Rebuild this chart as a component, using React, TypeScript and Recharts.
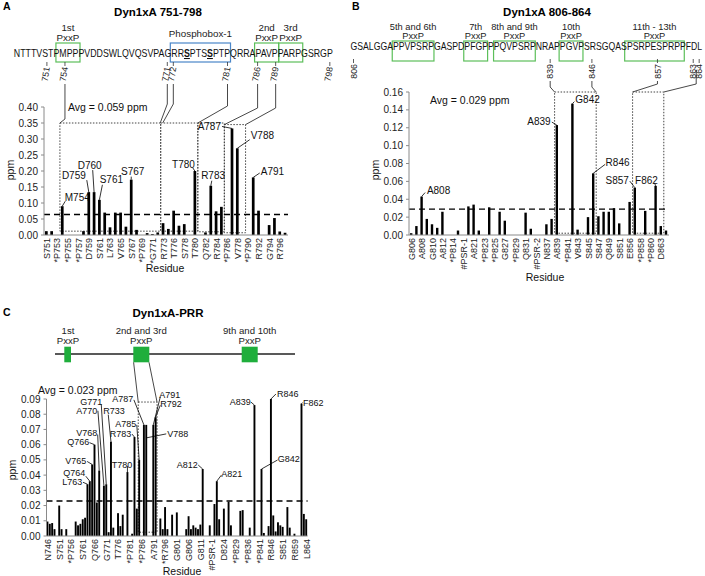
import React from 'react';
import { BarChart, Bar, XAxis, YAxis, ReferenceLine, ReferenceArea } from 'recharts';

const FONT = '"Liberation Sans", Arial, Helvetica, sans-serif';
const GREEN = '#5cbf5a';
const BLUE = '#4a86c8';

// ---------- Panel A: Dyn1xA 751-798 ----------
const residuesA = ['S751', 'T752', '*P753', 'M754', '*P755', 'P756', '*P757', 'V758', 'D759', 'D760', 'S761', 'W762', 'L763', 'Q764', 'V765', 'Q766', 'S767', 'V768', '*P769', 'A770', '*G771', 'R772', 'R773', 'S774', 'T776', 'S777', 'S778', 'P779', 'T780', 'P781', 'Q782', 'R783', 'R784', 'A785', '*P786', 'A787', 'V778', 'P789', '*P790', 'A791', 'R792', 'P793', 'G794', 'S795', 'R796', 'G797'];
const ppmA = [0.012, 0.012, 0, 0.09, 0, 0, 0, 0.012, 0.134, 0.134, 0.11, 0.07, 0.024, 0.07, 0.07, 0.026, 0.173, 0.016, 0, 0.006, 0.003, 0.008, 0.037, 0.019, 0.076, 0.029, 0.034, 0, 0.2, 0, 0.008, 0.154, 0.074, 0.088, 0, 0.333, 0.271, 0, 0, 0.18, 0.076, 0, 0.031, 0.053, 0.011, 0.007];
const avgA = 0.064;
const ticksA = [0, 0.05, 0.1, 0.15, 0.2, 0.25, 0.3, 0.35, 0.4];

// ---------- Panel B: Dyn1xA 806-864 ----------
const residuesB = ['G806', 'S807', 'A808', 'L809', 'G810', 'G811', 'A812', 'P813', '*P814', 'V815', '#PSR-1', 'G820', 'A821', 'S822', '*P823', 'D824', '*P825', 'F826', 'G827', 'P828', '*P829', 'P830', 'Q831', 'V832', '#PSR-2', 'P836', 'N837', 'R838', 'A839', 'P840', '*P841', 'G842', 'V843', 'P844', 'S845', 'R846', 'S847', 'G848', 'Q849', 'A850', 'S851', 'PSRP', 'E856', 'S857', '*P858', 'R859', '*P860', 'F862', 'D863', 'L864'];
const ppmB = [0.002, 0.01, 0.043, 0.018, 0.012, 0.008, 0.026, 0, 0, 0.005, 0, 0.032, 0.034, 0.005, 0, 0.031, 0, 0.026, 0.016, 0, 0, 0, 0.025, 0.007, 0, 0, 0.012, 0.018, 0.123, 0, 0, 0.147, 0.006, 0, 0.02, 0.069, 0.021, 0.026, 0.026, 0.03, 0.013, 0, 0.037, 0.053, 0, 0.027, 0, 0.055, 0.01, 0.005];
const avgB = 0.029;
const ticksB = [0, 0.02, 0.04, 0.06, 0.08, 0.1, 0.12, 0.14, 0.16];

// ---------- Panel C: Dyn1xA-PRR ----------
const residuesC = ['N746', 'T747', 'T748', 'T749', 'V750', 'S751', 'T752', 'P753', 'M754', 'P755', '*P756', 'P757', 'V758', 'D759', 'D760', 'S761', 'W762', 'L763', 'Q764', 'V765', 'Q766', 'S767', 'V768', 'P769', 'A770', 'G771', 'R772', 'R773', 'S774', 'P775', 'T776', 'S777', 'S778', 'P779', 'T780', '*P781', 'Q782', 'R783', 'R784', 'A785', '*P786', 'A787', 'V788', 'P789', 'P790', 'A791', 'R792', 'P793', 'G794', 'S795', '*R796', 'G797', 'P798', 'A799', 'P800', 'G801', 'P802', 'P803', 'P804', 'A805', 'G806', 'S807', 'A808', 'L809', 'G810', 'G811', 'A812', 'P813', 'P814', 'V815', '#PSR-1', 'G820', 'A821', 'S822', 'P823', 'D824', 'P825', 'F826', 'G827', 'P828', '*P829', 'P830', 'Q831', 'V832', 'PSR-2', '*P836', 'N837', 'R838', 'A839', 'P840', '*P841', 'G842', 'V843', 'P844', 'S845', 'R846', 'S847', 'G848', 'Q849', 'A850', 'S851', 'PSRP', 'E856', 'S857', 'P858', 'R859', 'P860', 'P861', 'F862', 'D863', 'L864'];
const ppmC = [0.0095, 0.008, 0.0085, 0.0045, 0, 0.02, 0.0045, 0, 0.0045, 0, 0, 0, 0.0095, 0.007, 0.008, 0.011, 0.012, 0.034, 0.036, 0.047, 0.06, 0.022, 0.043, 0, 0.033, 0.034, 0.0025, 0.062, 0.0055, 0, 0.015, 0.0065, 0.014, 0, 0.042, 0, 0.0015, 0.065, 0.018, 0.05, 0, 0.073, 0.073, 0, 0, 0.073, 0.078, 0, 0.0115, 0.0045, 0.019, 0.0045, 0, 0.014, 0, 0.0155, 0, 0, 0, 0.0045, 0.013, 0.0045, 0.007, 0.0055, 0.0045, 0.0075, 0.044, 0, 0, 0.007, 0, 0.021, 0.036, 0.011, 0, 0.018, 0, 0.0225, 0.007, 0, 0, 0, 0.0165, 0.017, 0, 0, 0.0055, 0, 0.086, 0, 0, 0.044, 0.002, 0, 0.0065, 0.09, 0.0135, 0.003, 0.009, 0.007, 0.006, 0, 0.019, 0.0055, 0, 0.0015, 0, 0, 0.087, 0.0145, 0.011];
const avgC = 0.023;
const ticksC = [0, 0.01, 0.02, 0.03, 0.04, 0.05, 0.06, 0.07, 0.08, 0.09];

// sequences above panels A and B
const seqA = 'NTTTVSTPMPPPVDDSWLQVQSVPAGRRSPTSSPTPQRRAPAVPPARPGSRGP';
const seqB = 'GSALGGAPPVPSRPGASPDPFGPPPQVPSRPNRAPPGVPSRSGQASPSRPESPRPPFDL';
const numbersA = [751, 754, 771, 772, 781, 786, 789, 798];
const numbersB = [806, 839, 846, 857, 863, 864];

type Callout = { text: string; dx: number; dy: number; anchor: 'start' | 'middle' | 'end'; lx: number; ly: number; ey?: number };

const calloutsA: Record<string, Callout> = {
  M754: { text: 'M754', dx: 2.5, dy: -5.5, anchor: 'start', lx: 3, ly: -5 },
  D759: { text: 'D759', dx: -3, dy: -13.3, anchor: 'end', lx: -2, ly: -12 },
  D760: { text: 'D760', dx: -4.4, dy: -23.3, anchor: 'middle', lx: -1.4, ly: -22 },
  S761: { text: 'S761', dx: 0.3, dy: -16.7, anchor: 'start', lx: 3, ly: -15 },
  S767: { text: 'S767', dx: 1.5, dy: -4.5, anchor: 'middle', lx: 0, ly: -3 },
  T780: { text: 'T780', dx: 0, dy: -3.5, anchor: 'end', lx: -2, ly: -3 },
  R783: { text: 'R783', dx: 2.3, dy: -6.9, anchor: 'middle', lx: 1, ly: -5 },
  A787: { text: 'A787', dx: -11, dy: 1.1, anchor: 'end', lx: -10, ly: -2 },
  V778: { text: 'V788', dx: 13.4, dy: -9.1, anchor: 'start', lx: 12.4, ly: -8.6 },
  A791: { text: 'A791', dx: 7.5, dy: -2.9, anchor: 'start', lx: 6.5, ly: -4.4 },
};

const calloutsB: Record<string, Callout> = {
  A808: { text: 'A808', dx: 5.3, dy: -2.4, anchor: 'start', lx: 3.5, ly: -4 },
  A839: { text: 'A839', dx: -6.2, dy: -0.5, anchor: 'end', lx: -5, ly: -3 },
  G842: { text: 'G842', dx: 2.9, dy: -1.1, anchor: 'start', lx: 2, ly: -2 },
  R846: { text: 'R846', dx: 12.4, dy: -7.8, anchor: 'start', lx: 12, ly: -9 },
  S857: { text: 'S857', dx: -5.9, dy: -4.1, anchor: 'end', lx: -5, ly: -6.5 },
  F862: { text: 'F862', dx: 2.3, dy: -2.3, anchor: 'end', lx: -1, ly: -3 },
};

const calloutsC: Record<string, Callout> = {
  L763: { text: 'L763', dx: -5.2, dy: 1.2, anchor: 'end', lx: -4.5, ly: -2 },
  Q764: { text: 'Q764', dx: -4.5, dy: -5, anchor: 'end', lx: -4, ly: -5 },
  V765: { text: 'V765', dx: -5.9, dy: 0, anchor: 'end', lx: -5, ly: -3 },
  Q766: { text: 'Q766', dx: -5.2, dy: 0.8, anchor: 'end', lx: -5, ly: -2 },
  V768: { text: 'V768', dx: -1.9, dy: -35, anchor: 'end', lx: -1.5, ly: -36 },
  A770: { text: 'A770', dx: -6.6, dy: -71.8, anchor: 'end', lx: -6, ly: -75 },
  G771: { text: 'G771', dx: -4, dy: -79.5, anchor: 'end', lx: -5, ly: -80 },
  R773: { text: 'R733', dx: -7.7, dy: -28.1, anchor: 'start', lx: -2.7, ly: -27 },
  T780: { text: 'T780', dx: 4.9, dy: -4.5, anchor: 'end', lx: 0, ly: -6 },
  R783: { text: 'R783', dx: -3.2, dy: -0.5, anchor: 'end', lx: -2.5, ly: -3 },
  A785: { text: 'A785', dx: -2.9, dy: -32.4, anchor: 'end', lx: -2.4, ly: -35 },
  A787: { text: 'A787', dx: -10.6, dy: -22.4, anchor: 'end', lx: -10, ly: -25 },
  V788: { text: 'V788', dx: 21, dy: 12.6, anchor: 'start', lx: 20, ly: 9, ey: 13 },
  A791: { text: 'A791', dx: 6, dy: -26.8, anchor: 'start', lx: 7, ly: -28 },
  R792: { text: 'R792', dx: 4.6, dy: -10.4, anchor: 'start', lx: 4.6, ly: -12 },
  A812: { text: 'A812', dx: -4.9, dy: -1.5, anchor: 'end', lx: -4.5, ly: -4 },
  A821: { text: 'A821', dx: 4.5, dy: -4.7, anchor: 'start', lx: 4.5, ly: -6 },
  A839: { text: 'A839', dx: -3.6, dy: 0.4, anchor: 'end', lx: -3.5, ly: -3 },
  G842: { text: 'G842', dx: 16.3, dy: -7.5, anchor: 'start', lx: 16, ly: -9 },
  R846: { text: 'R846', dx: 6, dy: -2.5, anchor: 'start', lx: 5, ly: -5 },
  F862: { text: 'F862', dx: 1.5, dy: 2, anchor: 'start', lx: 1, ly: -1 },
};

type Box = { x1: string; x2: string; y1: number; y2: number };
const boxesA: Box[] = [
  { x1: 'M754', x2: 'R772', y1: 0.012, y2: 0.35 },
  { x1: 'R773', x2: 'T780', y1: 0.012, y2: 0.35 },
  { x1: 'P781', x2: 'A785', y1: 0.01, y2: 0.35 },
  { x1: '*P786', x2: 'P789', y1: 0.007, y2: 0.345 },
];
const boxesB: Box[] = [
  { x1: 'A839', x2: 'R846', y1: 0.002, y2: 0.16 },
  { x1: 'S857', x2: 'D863', y1: 0.002, y2: 0.16 },
];
const boxesC: Box[] = [{ x1: 'A785', x2: 'R792', y1: 0.0025, y2: 0.088 }];

const dataA = residuesA.map((residue, i) => ({ residue, ppm: ppmA[i] }));
const dataB = residuesB.map((residue, i) => ({ residue, ppm: ppmB[i] }));
const dataC = residuesC.map((residue, i) => ({ residue, ppm: ppmC[i] }));

// plot geometry (page px) shared with the overlay drawing
const GA = { left: 44, right: 288, top: 107, bottom: 235, max: 0.4, n: residuesA.length };
const GB = { left: 409, right: 669, top: 92, bottom: 235, max: 0.16, n: residuesB.length };
const GC = { left: 46.5, right: 307.6, top: 399, bottom: 536, max: 0.09, n: residuesC.length };
const bandX = (g: typeof GA, i: number) => g.left + ((g.right - g.left) / g.n) * i;
const valY = (g: typeof GA, v: number) => g.bottom - (v / g.max) * (g.bottom - g.top);

const WA = 6.02;
const WB = 5.96;
const sxA = (k: number) => 16.8 + WA * k;
const sxB = (k: number) => 353.5 + WB * k;

const barShape = (callouts: Record<string, Callout>, fontSize: number) => (p: any) => {
  const { x, y, width, height, payload } = p;
  const c = callouts[payload.residue];
  const cx = x + width / 2;
  return (
    <g>
      {height > 0 && <rect x={x} y={y} width={width} height={height} fill="#000" />}
      {c && (
        <g>
          <line x1={cx + c.lx} y1={y + c.ly} x2={cx} y2={y + (c.ey ?? 0)} stroke="#000" strokeWidth={0.8} />
          <text x={cx + c.dx} y={y + c.dy} textAnchor={c.anchor} fontSize={fontSize} fontFamily={FONT} fill="#111">
            {c.text}
          </text>
        </g>
      )}
    </g>
  );
};

const RotTick = ({ x, y, payload }: any) => (
  <text transform={`translate(${x},${y}) rotate(-90)`} textAnchor="end" dy="0.35em" fontSize={9} fontFamily={FONT} fill="#222">
    {payload.value}
  </text>
);

type PanelProps = {
  data: { residue: string; ppm: number }[];
  left: number;
  top: number;
  width: number;
  height: number;
  margin: { top: number; right: number; bottom: number; left: number };
  yWidth: number;
  yMax: number;
  yTicks: number[];
  interval: number;
  barSize: number;
  avg: number;
  boxes: Box[];
  callouts: Record<string, Callout>;
  calloutSize: number;
};

const ShiftPanel = (p: PanelProps) => (
  <div style={{ position: 'absolute', left: p.left, top: p.top }}>
    <BarChart width={p.width} height={p.height} data={p.data} margin={p.margin} barCategoryGap={0}>
      <XAxis
        dataKey="residue"
        type="category"
        interval={p.interval}
        height={30}
        tickSize={0}
        tickMargin={3}
        tickLine={false}
        axisLine={{ stroke: '#8a8a8a' }}
        tick={(t: any) => <RotTick {...t} />}
      />
      <YAxis
        type="number"
        width={p.yWidth}
        domain={[0, p.yMax]}
        ticks={p.yTicks}
        interval={0}
        tickFormatter={(v: number) => v.toFixed(2)}
        tickSize={3}
        tickMargin={3}
        axisLine={{ stroke: '#8a8a8a' }}
        tickLine={{ stroke: '#8a8a8a' }}
        tick={{ fontSize: 10, fill: '#222', fontFamily: FONT }}
      />
      {p.boxes.map((b, i) => (
        <ReferenceArea
          key={i}
          x1={b.x1}
          x2={b.x2}
          y1={b.y1}
          y2={b.y2}
          fill="none"
          fillOpacity={0}
          stroke="#444"
          strokeWidth={1}
          strokeDasharray="1.5 1.5"
          ifOverflow="visible"
        />
      ))}
      <ReferenceLine y={p.avg} stroke="#000" strokeWidth={1.3} strokeDasharray="6 4" />
      <Bar dataKey="ppm" barSize={p.barSize} isAnimationActive={false} shape={barShape(p.callouts, p.calloutSize)} />
    </BarChart>
  </div>
);

// one text run squeezed to the letter pitch; bold/underlined letters as tspans
const Sequence = ({ seq, sx, w, y, bold = [] }: { seq: string; sx: (k: number) => number; w: number; y: number; bold?: number[] }) => (
  <text
    x={sx(0) - w / 2}
    y={y}
    textLength={seq.length * w}
    lengthAdjust="spacingAndGlyphs"
    fontFamily={FONT}
    fontSize={10.5}
    fill="#111"
  >
    {seq.split('').map((ch, k) =>
      bold.includes(k) ? (
        <tspan key={k} fontWeight="bold" textDecoration="underline">
          {ch}
        </tspan>
      ) : (
        <tspan key={k}>{ch}</tspan>
      )
    )}
  </text>
);

type SeqBox = { k1: number; k2: number; color: string; label: string[] };
const seqBoxesA: SeqBox[] = [
  { k1: 7, k2: 10, color: GREEN, label: ['1st', 'PxxP'] },
  { k1: 26, k2: 35, color: BLUE, label: ['Phosphobox-1'] },
  { k1: 40, k2: 43, color: GREEN, label: ['2nd', 'PxxP'] },
  { k1: 44, k2: 47, color: GREEN, label: ['3rd', 'PxxP'] },
];
const seqBoxesB: SeqBox[] = [
  { k1: 7, k2: 13, color: GREEN, label: ['5th and 6th', 'PxxP'] },
  { k1: 19, k2: 22, color: GREEN, label: ['7th', 'PxxP'] },
  { k1: 24, k2: 30, color: GREEN, label: ['8th and 9th', 'PxxP'] },
  { k1: 35, k2: 38, color: GREEN, label: ['10th', 'PxxP'] },
  { k1: 46, k2: 55, color: GREEN, label: ['11th - 13th', 'PxxP'] },
];

const SeqBoxes = ({ boxes, sx, w, y1, y2, l1, l2, fs }: { boxes: SeqBox[]; sx: (k: number) => number; w: number; y1: number; y2: number; l1: number; l2: number; fs: number }) => (
  <g fontFamily={FONT} fontSize={fs} fill="#222" textAnchor="middle">
    {boxes.map((b, i) => {
      const xa = sx(b.k1) - w / 2;
      const xb = sx(b.k2) + w / 2;
      const cx = (xa + xb) / 2;
      return (
        <g key={i}>
          <rect x={xa} y={y1} width={xb - xa} height={y2 - y1} fill="none" stroke={b.color} strokeWidth={1.2} />
          {b.label.length === 2 ? (
            <>
              <text x={cx} y={l1}>{b.label[0]}</text>
              <text x={cx} y={l2}>{b.label[1]}</text>
            </>
          ) : (
            <text x={cx} y={(l1 + l2) / 2 + 1}>{b.label[0]}</text>
          )}
        </g>
      );
    })}
  </g>
);

const Numbers = ({ nums, start, sx, y, angle }: { nums: number[]; start: number; sx: (k: number) => number; y: number; angle: number }) => (
  <g fontFamily={FONT} fontSize={8.8} fill="#222">
    {nums.map((n) => {
      const x = sx(n - start);
      return (
        <g key={n}>
          <line x1={x} y1={y - 5} x2={x} y2={y - 1} stroke="#333" strokeWidth={0.8} />
          <text transform={`translate(${x},${y}) rotate(${angle})`} textAnchor="end" dy="0.35em">
            {n}
          </text>
        </g>
      );
    })}
  </g>
);

const Overlay = () => {
  const topA = valY(GA, 0.35);
  const topA4 = valY(GA, 0.345);
  const linksA = [
    { x: sxA(8), bend: 119, tx: bandX(GA, 3), ty: topA },
    { x: sxA(25), bend: 104, tx: bandX(GA, 22) - 0.5, ty: topA },
    { x: sxA(26), bend: 104, tx: bandX(GA, 22) + 2, ty: topA },
    { x: sxA(35), bend: 106, tx: bandX(GA, 29), ty: topA },
    { x: sxA(40), bend: 108, tx: bandX(GA, 34), ty: topA4 },
    { x: sxA(43), bend: 108, tx: bandX(GA, 38), ty: topA4 },
  ];
  const linksB = [
    { x: sxB(33), y0: 81, bend: 87, tx: bandX(GB, 28), ty: GB.top },
    { x: sxB(40), y0: 81, bend: 87, tx: bandX(GB, 36), ty: GB.top },
    { x: sxB(51), y0: 81, bend: 84, tx: bandX(GB, 43), ty: GB.top },
    { x: sxB(57.5), y0: 70, bend: 84, tx: bandX(GB, 49), ty: GB.top },
  ];
  const boxTopC = valY(GC, 0.088);
  return (
    <svg width={705} height={576} style={{ position: 'absolute', left: 0, top: 0, pointerEvents: 'none' }} fontFamily={FONT}>
      {/* panel letters and titles */}
      <text x={3} y={10} fontSize={10.5} fontWeight="bold">A</text>
      <text x={352} y={10} fontSize={10.5} fontWeight="bold">B</text>
      <text x={3} y={316} fontSize={10.5} fontWeight="bold">C</text>
      <text x={158} y={16} fontSize={11.5} fontWeight="bold" textAnchor="middle">Dyn1xA 751-798</text>
      <text x={547} y={16} fontSize={11.5} fontWeight="bold" textAnchor="middle">Dyn1xA 806-864</text>
      <text x={168} y={317} fontSize={11.5} fontWeight="bold" textAnchor="middle">Dyn1xA-PRR</text>

      {/* panel A sequence */}
      <SeqBoxes boxes={seqBoxesA} sx={sxA} w={WA} y1={43} y2={62} l1={30.5} l2={40.5} fs={9.8} />
      <Sequence seq={seqA} sx={sxA} w={WA} y={57} bold={[28, 32]} />
      <Numbers nums={numbersA} start={746} sx={sxA} y={67} angle={-80} />
      {linksA.map((l, i) => (
        <polyline key={i} points={`${l.x},84 ${l.x},${l.bend} ${l.tx},${l.ty}`} fill="none" stroke="#333" strokeWidth={0.9} />
      ))}

      {/* panel B sequence */}
      <SeqBoxes boxes={seqBoxesB} sx={sxB} w={WB} y1={41} y2={61} l1={29.5} l2={38.8} fs={9.3} />
      <Sequence seq={seqB} sx={sxB} w={WB} y={50} />
      <Numbers nums={numbersB} start={806} sx={sxB} y={64} angle={-90} />
      {linksB.map((l, i) => (
        <polyline key={i} points={`${l.x},${l.y0} ${l.x},${l.bend} ${l.tx},${l.ty}`} fill="none" stroke="#333" strokeWidth={0.9} />
      ))}

      {/* panel C domain schematic */}
      <g fontSize={9.6} textAnchor="middle" fill="#222">
        <text x={68} y={333.5}>1st</text>
        <text x={68} y={343.5}>PxxP</text>
        <text x={141.3} y={333.5}>2nd and 3rd</text>
        <text x={141.3} y={343.5}>PxxP</text>
        <text x={249.7} y={333.5}>9th and 10th</text>
        <text x={249.7} y={343.5}>PxxP</text>
      </g>
      <line x1={55} y1={354} x2={295} y2={354} stroke="#222" strokeWidth={1.4} />
      <rect x={64.3} y={346.7} width={6.7} height={15.6} fill="#1fae3c" />
      <rect x={133.3} y={346.7} width={16} height={15.6} fill="#1fae3c" />
      <rect x={241.7} y={346.7} width={16} height={15.6} fill="#1fae3c" />
      <line x1={133.6} y1={362.3} x2={bandX(GC, 39)} y2={boxTopC} stroke="#333" strokeWidth={0.9} />
      <line x1={149} y1={362.3} x2={bandX(GC, 47)} y2={boxTopC} stroke="#333" strokeWidth={0.9} />

      {/* averages */}
      <g fontSize={10.5} fill="#111">
        <text x={68} y={110.5}>Avg = 0.059 ppm</text>
        <text x={430} y={103.5}>Avg = 0.029 ppm</text>
        <text x={38} y={393.5}>Avg = 0.023 ppm</text>
      </g>

      {/* axis titles */}
      <g fontSize={10.5} fill="#111" textAnchor="middle">
        <text transform="translate(10,170) rotate(-90)" dy="0.35em">ppm</text>
        <text transform="translate(375,170) rotate(-90)" dy="0.35em">ppm</text>
        <text transform="translate(12,470) rotate(-90)" dy="0.35em">ppm</text>
        <text x={165} y={272}>Residue</text>
        <text x={545} y={281}>Residue</text>
        <text x={182} y={575}>Residue</text>
      </g>
    </svg>
  );
};

export default function App() {
  return (
    <div style={{ position: 'absolute', left: 0, top: 0, width: 705, height: 576, background: '#fff', overflow: 'hidden' }}>
      <ShiftPanel
        data={dataA}
        left={0}
        top={90}
        width={300}
        height={200}
        margin={{ top: 17, right: 12, bottom: 25, left: 0 }}
        yWidth={GA.left}
        yMax={GA.max}
        yTicks={ticksA}
        interval={1}
        barSize={2.7}
        avg={avgA}
        boxes={boxesA}
        callouts={calloutsA}
        calloutSize={10}
      />
      <ShiftPanel
        data={dataB}
        left={350}
        top={80}
        width={355}
        height={210}
        margin={{ top: 12, right: 36, bottom: 25, left: 0 }}
        yWidth={GB.left - 350}
        yMax={GB.max}
        yTicks={ticksB}
        interval={1}
        barSize={2.4}
        avg={avgB}
        boxes={boxesB}
        callouts={calloutsB}
        calloutSize={10}
      />
      <ShiftPanel
        data={dataC}
        left={0}
        top={380}
        width={330}
        height={196}
        margin={{ top: 19, right: 22.4, bottom: 10, left: 0 }}
        yWidth={GC.left}
        yMax={GC.max}
        yTicks={ticksC}
        interval={4}
        barSize={1.9}
        avg={avgC}
        boxes={boxesC}
        callouts={calloutsC}
        calloutSize={9}
      />
      <Overlay />
    </div>
  );
}
